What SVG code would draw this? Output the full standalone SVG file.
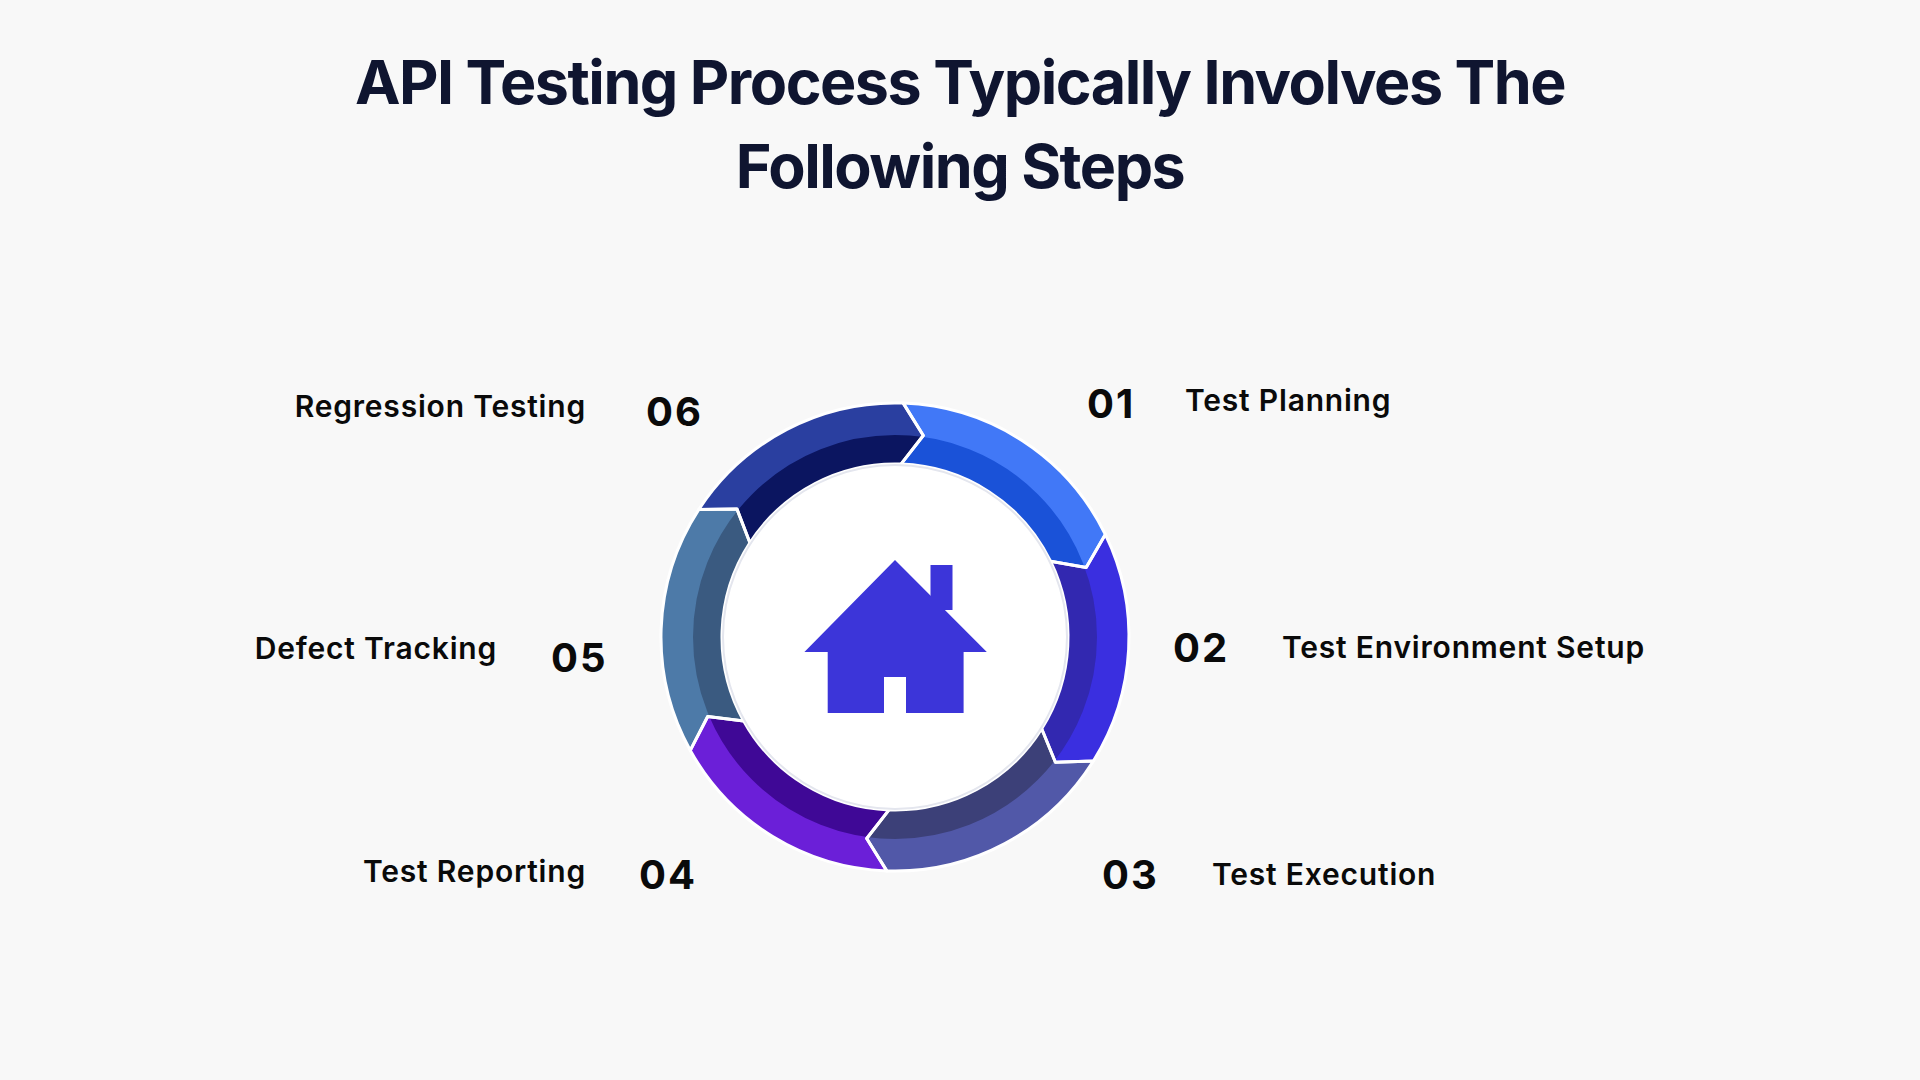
<svg xmlns="http://www.w3.org/2000/svg" width="1920" height="1080" viewBox="0 0 1920 1080">
<style>
.t{font-family:Inter,"Open Sans",sans-serif;font-weight:700;fill:#0f1530;font-size:61px;letter-spacing:-1.5px;text-anchor:middle}
.n{font-family:Inter,"Open Sans",sans-serif;font-weight:700;fill:#0a0a0a;font-size:40px;letter-spacing:2px}
.l{font-family:Inter,"Open Sans",sans-serif;font-weight:600;fill:#0a0a0a;font-size:30px;letter-spacing:0.8px}
.e{text-anchor:end}
.sep{fill:none;stroke:#ffffff;stroke-width:3;stroke-linejoin:round}
</style>
<defs>
<path id="p1" d="M903.2,403.1 A234,234 0 0 1 1105.3,534.4 L1086.2,567.4 L1050.5,561.2 A173,173 0 0 0 901.0,464.1 L923.3,435.5 Z"/>
<path id="p2" d="M1105.3,534.4 A234,234 0 0 1 1093.4,761.0 L1055.4,762.3 L1041.7,728.7 A173,173 0 0 0 1050.5,561.2 L1086.2,567.4 Z"/>
<path id="p3" d="M1093.4,761.0 A234,234 0 0 1 886.8,870.9 L866.7,838.5 L889.0,809.9 A173,173 0 0 0 1041.7,728.7 L1055.4,762.3 Z"/>
<path id="p4" d="M886.8,870.9 A234,234 0 0 1 690.3,750.4 L707.7,716.5 L743.7,720.9 A173,173 0 0 0 889.0,809.9 L866.7,838.5 Z"/>
<path id="p5" d="M690.3,750.4 A234,234 0 0 1 698.7,509.6 L736.9,508.9 L749.9,542.8 A173,173 0 0 0 743.7,720.9 L707.7,716.5 Z"/>
<path id="p6" d="M698.7,509.6 A234,234 0 0 1 903.2,403.1 L923.3,435.5 L901.0,464.1 A173,173 0 0 0 749.9,542.8 L736.9,508.9 Z"/>
<clipPath id="c1"><use href="#p1"/></clipPath>
<clipPath id="c2"><use href="#p2"/></clipPath>
<clipPath id="c3"><use href="#p3"/></clipPath>
<clipPath id="c4"><use href="#p4"/></clipPath>
<clipPath id="c5"><use href="#p5"/></clipPath>
<clipPath id="c6"><use href="#p6"/></clipPath>
</defs>
<rect width="1920" height="1080" fill="#f8f8f8"/>
<g id="title">
<text class="t" x="960" y="104">API Testing Process Typically Involves The</text>
<text class="t" x="960" y="188">Following Steps</text>
</g>
<g id="connectors">
<g id="seg1"><use href="#p1" fill="#4178f7"/><circle cx="895" cy="637" r="187.5" fill="none" stroke="#1a52d8" stroke-width="29" clip-path="url(#c1)"/></g>
<g id="seg2"><use href="#p2" fill="#3a2fe0"/><circle cx="895" cy="637" r="187.5" fill="none" stroke="#3228b0" stroke-width="29" clip-path="url(#c2)"/></g>
<g id="seg3"><use href="#p3" fill="#5158a8"/><circle cx="895" cy="637" r="187.5" fill="none" stroke="#3c4078" stroke-width="29" clip-path="url(#c3)"/></g>
<g id="seg4"><use href="#p4" fill="#6b1fd8"/><circle cx="895" cy="637" r="187.5" fill="none" stroke="#3f0896" stroke-width="29" clip-path="url(#c4)"/></g>
<g id="seg5"><use href="#p5" fill="#4d7aa8"/><circle cx="895" cy="637" r="187.5" fill="none" stroke="#3a5a80" stroke-width="29" clip-path="url(#c5)"/></g>
<g id="seg6"><use href="#p6" fill="#2a3fa0"/><circle cx="895" cy="637" r="187.5" fill="none" stroke="#0b1560" stroke-width="29" clip-path="url(#c6)"/></g>
<use href="#p1" class="sep"/><use href="#p2" class="sep"/><use href="#p3" class="sep"/><use href="#p4" class="sep"/><use href="#p5" class="sep"/><use href="#p6" class="sep"/>
</g>
<g id="hub">
<circle cx="895" cy="637" r="172" fill="#ffffff" stroke="#e4e6ee" stroke-width="2"/>
<rect x="930.5" y="565" width="22" height="45" fill="#3c35d9"/>
<path d="M895,560 L986.8,652 L963.6,652 L963.6,713 L906,713 L906,677 L884,677 L884,713 L827.7,713 L827.7,652 L804.4,652 Z" fill="#3c35d9"/>
</g>
<g id="step1"><text class="n" x="1087" y="418">01</text><text class="l" x="1185" y="411">Test Planning</text></g>
<g id="step2"><text class="n" x="1173" y="662">02</text><text class="l" x="1282" y="658">Test Environment Setup</text></g>
<g id="step3"><text class="n" x="1102" y="889">03</text><text class="l" x="1212" y="885">Test Execution</text></g>
<g id="step4"><text class="n" x="639" y="889">04</text><text class="l e" x="586" y="882">Test Reporting</text></g>
<g id="step5"><text class="n" x="551" y="672">05</text><text class="l e" x="497" y="659">Defect Tracking</text></g>
<g id="step6"><text class="n" x="646" y="426">06</text><text class="l e" x="586" y="417">Regression Testing</text></g>
</svg>
